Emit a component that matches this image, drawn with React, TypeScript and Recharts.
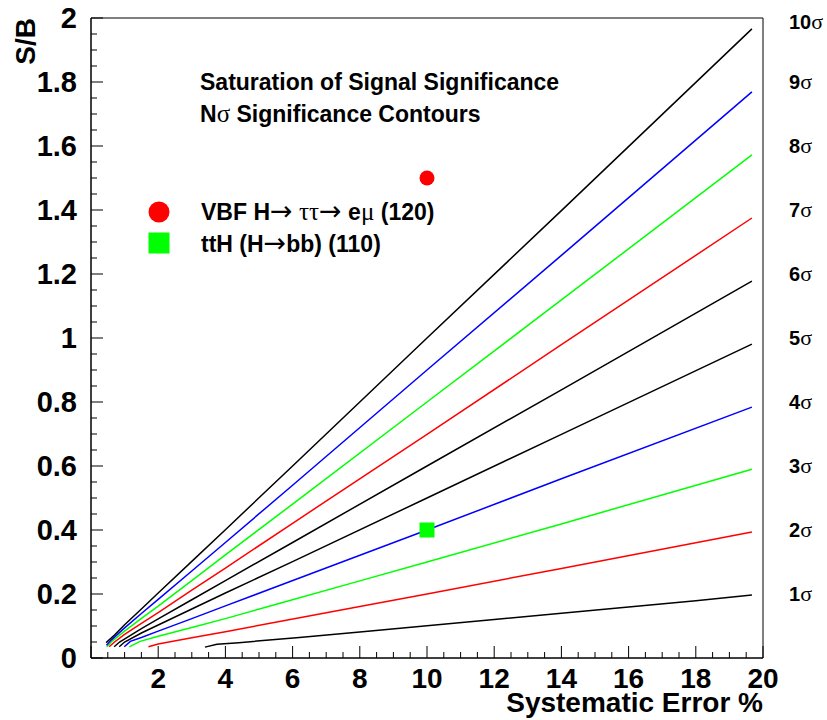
import React from 'react';
import { ComposedChart, Line, Scatter, XAxis, YAxis, ReferenceArea } from 'recharts';

// Nσ contour levels and their ROOT colours (1 black, 2 red, 3 green, 4 blue)
const sigmaLevels = [1, 2, 3, 4, 5, 6, 7, 8, 9, 10];
const sigmaColors = ['#000000', '#ff0000', '#00ff00', '#0000ff', '#000000', '#000000', '#ff0000', '#00ff00', '#0000ff', '#000000'];

// systematic error (%) vs S/B
const err1 = [3.39, 3.75, 4.4, 6.2, 8, 10, 12, 14, 16, 18, 19.67];
const sb1 = [0.034, 0.043, 0.048, 0.064, 0.081, 0.101, 0.12, 0.14, 0.159, 0.179, 0.197];
const err2 = [1.71, 2.0, 3, 4, 5.65, 8, 10, 14, 19.67];
const sb2 = [0.035, 0.044, 0.063, 0.082, 0.115, 0.161, 0.2, 0.28, 0.394];
const err3 = [1.14, 1.46, 2, 3, 4, 5.65, 8, 10, 14, 19.67];
const sb3 = [0.035, 0.052, 0.068, 0.095, 0.123, 0.172, 0.241, 0.3, 0.419, 0.59];
const err4 = [0.99, 1.17, 1.5, 2, 3, 4, 5.65, 10, 14, 19.67];
const sb4 = [0.035, 0.052, 0.064, 0.084, 0.123, 0.163, 0.228, 0.4, 0.56, 0.784];
const err5 = [0.84, 1.0, 1.5, 2, 3, 4, 6, 10, 14, 19.67];
const sb5 = [0.035, 0.05, 0.078, 0.103, 0.153, 0.203, 0.301, 0.5, 0.699, 0.981];
const err6 = [0.69, 0.85, 1.5, 2, 3, 4, 6, 10, 14, 19.67];
const sb6 = [0.035, 0.05, 0.092, 0.122, 0.182, 0.242, 0.361, 0.6, 0.838, 1.178];
const err7 = [0.54, 0.7, 1, 1.5, 2, 3, 4, 6, 10, 14, 19.67];
const sb7 = [0.035, 0.05, 0.074, 0.108, 0.142, 0.212, 0.281, 0.421, 0.699, 0.979, 1.375];
const err8 = [0.47, 0.6, 1, 1.5, 2, 3, 4, 6, 10, 14, 19.67];
const sb8 = [0.035, 0.05, 0.084, 0.124, 0.162, 0.242, 0.322, 0.481, 0.8, 1.119, 1.572];
const err9 = [0.46, 0.6, 1, 1.5, 2, 3, 4, 6, 10, 14, 19.67];
const sb9 = [0.04, 0.056, 0.094, 0.139, 0.183, 0.272, 0.361, 0.54, 0.9, 1.258, 1.769];
const err10 = [0.45, 0.7, 1, 1.5, 2, 3, 4, 6, 10, 14, 19.67];
const sb10 = [0.048, 0.072, 0.104, 0.153, 0.203, 0.302, 0.401, 0.6, 1.0, 1.398, 1.966];

const contourErr = [err1, err2, err3, err4, err5, err6, err7, err8, err9, err10];
const contourSB = [sb1, sb2, sb3, sb4, sb5, sb6, sb7, sb8, sb9, sb10];

// measured channels
const markerErr = [10, 10];
const markerSB = [1.5, 0.4];

// axis labels
const xTickLabels = [2, 4, 6, 8, 10, 12, 14, 16, 18, 20];
const yTickLabels = [0, 0.2, 0.4, 0.6, 0.8, 1, 1.2, 1.4, 1.6, 1.8, 2];
const sigmaTickValues = [0.2, 0.4, 0.6, 0.8, 1, 1.2, 1.4, 1.6, 1.8, 2];

const FONT = '"Liberation Sans", Arial, Helvetica, sans-serif';
const GREEK = '"Liberation Serif", "DejaVu Serif", serif';
const ARROW = '"DejaVu Sans", sans-serif';

// minor ticks: 4 per major division
const xTicks: number[] = [];
for (let i = 0; i <= 40; i++) xTicks.push(i * 0.5);
const yTicks: number[] = [];
for (let i = 0; i <= 40; i++) yTicks.push(Math.round(i * 5) / 100);

const contours = sigmaLevels.map((n, k) => ({
  n,
  color: sigmaColors[k],
  data: contourErr[k].map((x, i) => ({ x, y: contourSB[k][i] })),
}));
const vbfData = [{ x: markerErr[0], y: markerSB[0] }];
const tthData = [{ x: markerErr[1], y: markerSB[1] }];

const near = (v: number, list: number[]) => list.some((t) => Math.abs(t - v) < 1e-6);
const fmt = (v: number) => String(Number(v.toFixed(1)));

const LeftTick = (props: any) => {
  const { x, y, payload } = props;
  const major = near(payload.value, yTickLabels);
  return (
    <g>
      <line x1={x} x2={x + (major ? 12 : 6)} y1={y} y2={y} stroke="#000" />
      {major && (
        <text x={x - 14} y={y} dy="0.36em" textAnchor="end" fontFamily={FONT} fontWeight="bold" fontSize={29} fill="#000">
          {fmt(payload.value)}
        </text>
      )}
    </g>
  );
};

const BottomTick = (props: any) => {
  const { x, y, payload } = props;
  const major = Math.abs(payload.value / 2 - Math.round(payload.value / 2)) < 1e-6;
  return (
    <g>
      <line x1={x} x2={x} y1={y} y2={y - (major ? 12 : 6)} stroke="#000" />
      {near(payload.value, xTickLabels) && (
        <text x={x} y={y + 30} textAnchor="middle" fontFamily={FONT} fontWeight="bold" fontSize={28} fill="#000">
          {payload.value}
        </text>
      )}
    </g>
  );
};

const SigmaTick = (props: any) => {
  const { x, y, payload } = props;
  const n = Math.round(payload.value * 5);
  return (
    <text x={x + 26} y={y + (n === 10 ? 4 : 0)} dy="0.36em" fontFamily={FONT} fontWeight="bold" fontSize={20} fill="#000">
      {n}
      <tspan fontFamily={GREEK} fontWeight="normal" fontSize={22}>σ</tspan>
    </text>
  );
};

export default function App() {
  return (
    <div style={{ position: 'relative', width: 827, height: 720, background: '#fff' }}>
      <style>{'body{margin:0}'}</style>
      <ComposedChart width={827} height={720} margin={{ top: 18, right: 0, bottom: 0, left: 0 }}>
        <XAxis
          type="number"
          dataKey="x"
          domain={[0, 20]}
          ticks={xTicks}
          interval={0}
          allowDataOverflow
          height={62}
          tickSize={0}
          tickMargin={0}
          tickLine={false}
          axisLine={{ stroke: '#000' }}
          tick={<BottomTick />}
        />
        <YAxis
          yAxisId="left"
          type="number"
          dataKey="y"
          domain={[0, 2]}
          ticks={yTicks}
          interval={0}
          allowDataOverflow
          width={91}
          tickSize={0}
          tickMargin={0}
          tickLine={false}
          axisLine={{ stroke: '#000' }}
          tick={<LeftTick />}
        />
        <YAxis
          yAxisId="right"
          orientation="right"
          type="number"
          dataKey="y"
          domain={[0, 2]}
          ticks={sigmaTickValues}
          interval={0}
          allowDataOverflow
          width={64}
          tickSize={0}
          tickMargin={0}
          tickLine={false}
          axisLine={false}
          tick={<SigmaTick />}
        />
        <ReferenceArea yAxisId="left" x1={0} x2={20} y1={0} y2={2} fill="none" stroke="#000" strokeWidth={1} />
        {contours.map((c) => (
          <Line
            key={c.n}
            yAxisId="left"
            data={c.data}
            dataKey="y"
            type="linear"
            stroke={c.color}
            strokeWidth={1.5}
            dot={false}
            activeDot={false}
            isAnimationActive={false}
          />
        ))}
        <Scatter
          yAxisId="left"
          data={vbfData}
          dataKey="y"
          isAnimationActive={false}
          shape={(p: any) => <circle cx={p.cx} cy={p.cy} r={7.5} fill="#ff0000" />}
        />
        <Scatter
          yAxisId="right"
          data={tthData}
          dataKey="y"
          isAnimationActive={false}
          shape={(p: any) => <rect x={p.cx - 7.5} y={p.cy - 7.5} width={15} height={15} fill="#00ff00" />}
        />
      </ComposedChart>
      <svg width={827} height={720} style={{ position: 'absolute', left: 0, top: 0, pointerEvents: 'none' }}>
        <g fontFamily={FONT} fontWeight="bold" fill="#000">
          <text x={35} y={18} transform="rotate(-90 35 18)" textAnchor="end" fontSize={28}>S/B</text>
          <text x={763} y={712} textAnchor="end" fontSize={28}>Systematic Error %</text>
          <text x={200} y={90} fontSize={23}>Saturation of Signal Significance</text>
          <text x={200} y={122} fontSize={23}>
            N<tspan fontFamily={GREEK} fontWeight="normal" fontSize={25}>σ</tspan> Significance Contours
          </text>
          <circle cx={159} cy={212} r={10.5} fill="#ff0000" />
          <rect x={148.5} y={232.5} width={21} height={21} fill="#00ff00" />
          <text x={201} y={220} fontSize={23}>
            VBF H<tspan fontFamily={ARROW} fontWeight="normal" fontSize={27}>→</tspan>{' '}
            <tspan fontFamily={GREEK} fontWeight="normal" fontSize={25}>ττ</tspan>
            <tspan fontFamily={ARROW} fontWeight="normal" fontSize={27}>→</tspan> e
            <tspan fontFamily={GREEK} fontWeight="normal" fontSize={25}>μ</tspan> (120)
          </text>
          <text x={201} y={252} fontSize={23}>
            ttH (H<tspan fontFamily={ARROW} fontWeight="normal" fontSize={27}>→</tspan>bb) (110)
          </text>
        </g>
      </svg>
    </div>
  );
}
